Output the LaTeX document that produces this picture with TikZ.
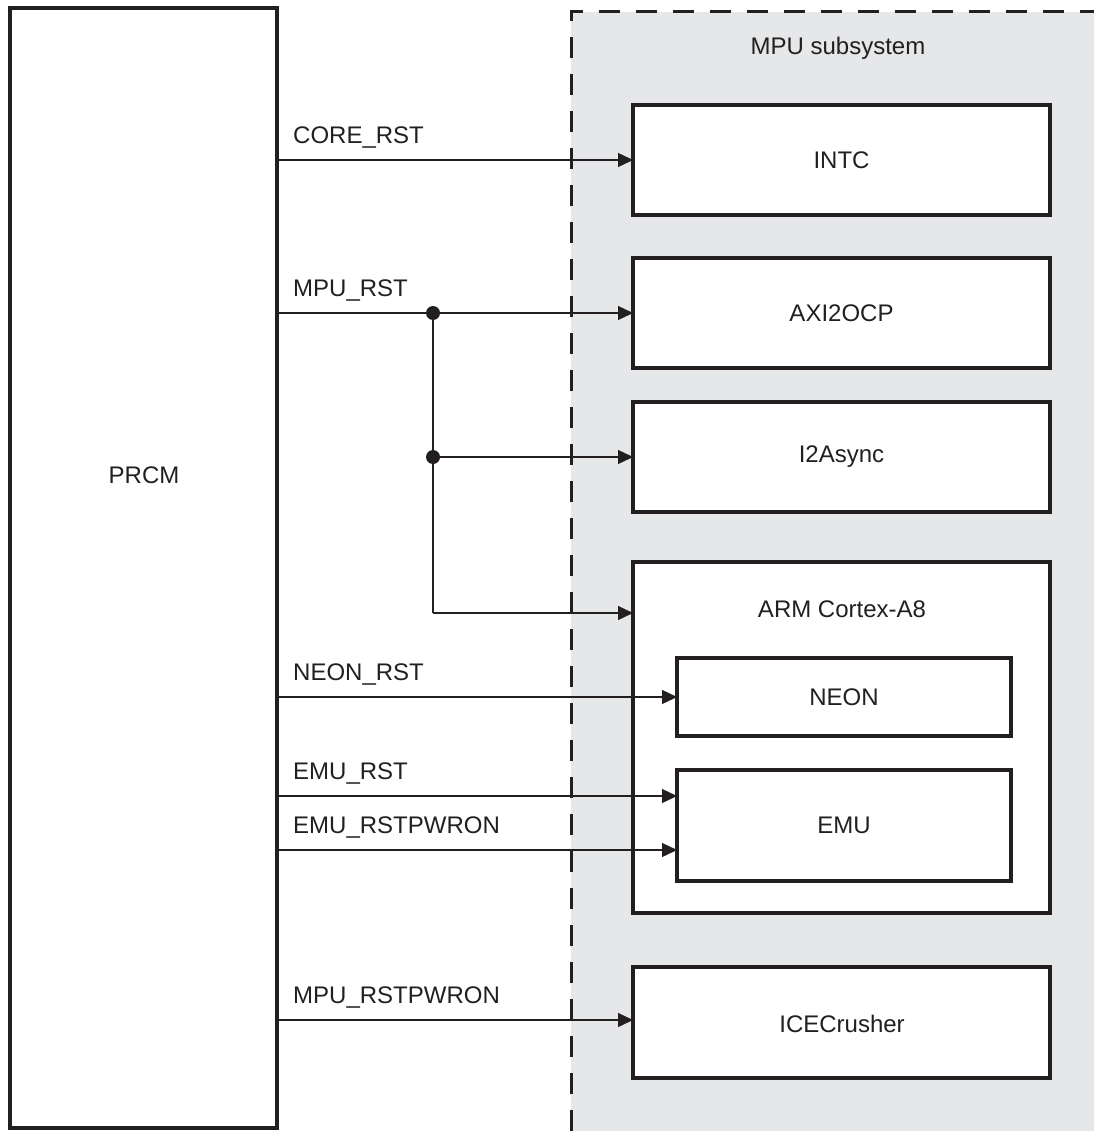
\documentclass[tikz,border=0pt]{standalone}
\usepackage{fontspec}
\setmainfont{Liberation Sans}
\usetikzlibrary{arrows.meta}
\definecolor{ink}{HTML}{231F20}
\definecolor{mpugray}{HTML}{E6E7E8}
\tikzset{
  blk/.style={draw=ink,line width=3.6pt,fill=white,inner sep=0pt,outer sep=0pt,anchor=north west},
  sig/.style={draw=ink,line width=1.3pt,-{Triangle[length=15pt,width=14pt]}},
  wire/.style={draw=ink,line width=1.3pt},
  dot/.style={circle,fill=ink,inner sep=0pt,minimum size=14pt},
  sname/.style={anchor=base west,inner sep=0pt,text=ink},
}
\begin{document}
\begin{tikzpicture}[x=1pt,y=-1pt,font=\fontsize{24}{28}\selectfont,text=ink]
  \useasboundingbox (0,0) rectangle (1094,1131);
  % MPU subsystem area
  \fill[mpugray] (571,12) rectangle (1094,1131);
  \draw[ink,line width=3pt,dash pattern=on 21pt off 16pt] (571,1131) -- (571,12) -- (1094,12);
  \node at (838,48) {MPU subsystem};
  % PRCM
  \node[blk,minimum width=267pt,minimum height=1120pt] (prcm) at (10,8) {};
  \node at (144,475) {PRCM};
  % blocks
  \node[blk,minimum width=417pt,minimum height=110pt] (intc) at (633,105) {};
  \node at (intc.center) {INTC};
  \node[blk,minimum width=417pt,minimum height=110pt] (axi) at (633,258) {};
  \node at (axi.center) {AXI2OCP};
  \node[blk,minimum width=417pt,minimum height=110pt] (async) at (633,402) {};
  \node at (async.center) {I2Async};
  \node[blk,minimum width=417pt,minimum height=351pt] (arm) at (633,562) {};
  \node at (842,609) {ARM Cortex-A8};
  \node[blk,minimum width=334pt,minimum height=78pt] (neon) at (677,658) {};
  \node at (neon.center) {NEON};
  \node[blk,minimum width=334pt,minimum height=111pt] (emu) at (677,770) {};
  \node at (emu.center) {EMU};
  \node[blk,minimum width=417pt,minimum height=111pt] (ice) at (633,967) {};
  \node at (842,1024) {ICECrusher};
  % connection points
  \coordinate (armin) at (633,613);
  \coordinate (emuA) at (677,796);
  \coordinate (emuB) at (677,850);
  \coordinate (icein) at (633,1020);
  \node[dot] (j1) at (433,313) {};
  \node[dot] (j2) at (433,457) {};
  % signals
  \draw[sig] (prcm.east |- intc.west) -- (intc.west);
  \node[sname] at (293,144) {CORE\_RST};
  \draw[sig] (prcm.east |- axi.west) -- (axi.west);
  \node[sname] at (293,296) {MPU\_RST};
  \draw[wire] (j1.center) -- (j2.center) -- (j1.center |- armin);
  \draw[sig] (j2.center) -- (j2.center -| async.west);
  \draw[sig] (j1.center |- armin) -- (armin);
  \draw[sig] (prcm.east |- neon.west) -- (neon.west);
  \node[sname] at (293,680) {NEON\_RST};
  \draw[sig] (prcm.east |- emuA) -- (emuA);
  \node[sname] at (293,779) {EMU\_RST};
  \draw[sig] (prcm.east |- emuB) -- (emuB);
  \node[sname] at (293,833) {EMU\_RSTPWRON};
  \draw[sig] (prcm.east |- icein) -- (icein);
  \node[sname] at (293,1003) {MPU\_RSTPWRON};
\end{tikzpicture}
\end{document}
